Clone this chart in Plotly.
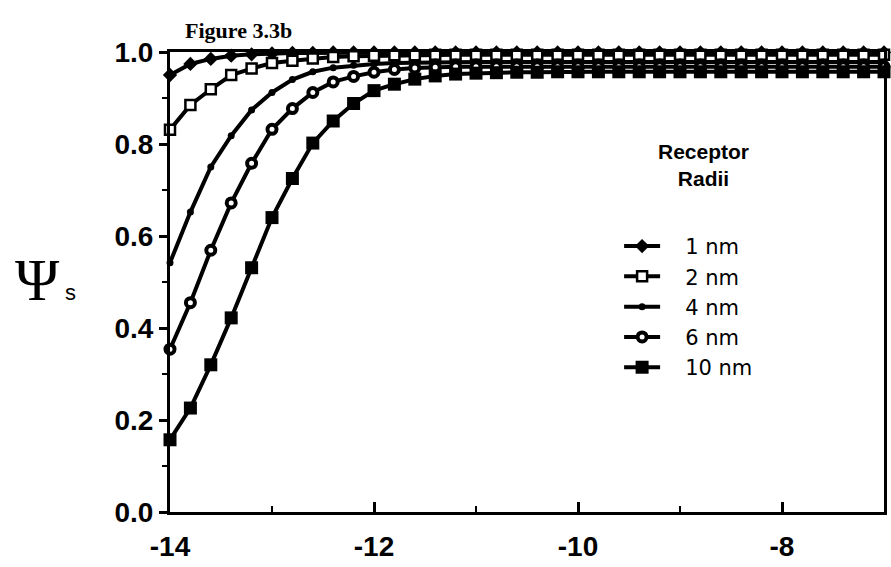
import plotly.graph_objects as go

# log concentration (x) values
x_vals = [-14.0, -13.8, -13.6, -13.4, -13.2, -13.0, -12.8, -12.6, -12.4, -12.2,
          -12.0, -11.8, -11.6, -11.4, -11.2, -11.0, -10.8, -10.6, -10.4, -10.2,
          -10.0, -9.8, -9.6, -9.4, -9.2, -9.0, -8.8, -8.6, -8.4, -8.2,
          -8.0, -7.8, -7.6, -7.4, -7.2, -7.0]

psi_1nm = [0.950, 0.974, 0.985, 0.992, 0.995, 0.997, 0.998, 0.998, 0.999, 0.999,
           0.999, 0.999, 0.999, 0.999, 0.999, 0.999, 0.999, 0.999, 0.999, 0.999,
           0.999, 0.999, 0.999, 0.999, 0.999, 0.999, 0.999, 0.999, 0.999, 0.999,
           0.999, 0.999, 0.999, 0.999, 0.999, 0.999]
psi_2nm = [0.831, 0.885, 0.919, 0.950, 0.964, 0.976, 0.981, 0.986, 0.989, 0.991,
           0.992, 0.993, 0.993, 0.994, 0.994, 0.994, 0.994, 0.994, 0.994, 0.994,
           0.994, 0.994, 0.994, 0.994, 0.994, 0.994, 0.994, 0.994, 0.994, 0.994,
           0.994, 0.994, 0.994, 0.994, 0.994, 0.994]
psi_4nm = [0.542, 0.652, 0.750, 0.818, 0.874, 0.912, 0.940, 0.957, 0.966, 0.971,
           0.974, 0.976, 0.977, 0.978, 0.978, 0.978, 0.978, 0.978, 0.978, 0.978,
           0.978, 0.978, 0.978, 0.978, 0.978, 0.978, 0.978, 0.978, 0.978, 0.978,
           0.978, 0.978, 0.978, 0.978, 0.978, 0.978]
psi_6nm = [0.354, 0.455, 0.569, 0.672, 0.758, 0.832, 0.877, 0.912, 0.935, 0.947,
           0.956, 0.962, 0.965, 0.967, 0.968, 0.968, 0.968, 0.968, 0.968, 0.968,
           0.968, 0.968, 0.968, 0.968, 0.968, 0.968, 0.968, 0.968, 0.968, 0.968,
           0.968, 0.968, 0.968, 0.968, 0.968, 0.968]
psi_10nm = [0.157, 0.226, 0.320, 0.422, 0.531, 0.640, 0.725, 0.802, 0.850, 0.888,
            0.916, 0.930, 0.941, 0.948, 0.952, 0.954, 0.955, 0.956, 0.956, 0.957,
            0.957, 0.957, 0.957, 0.957, 0.957, 0.957, 0.957, 0.957, 0.957, 0.957,
            0.957, 0.957, 0.957, 0.957, 0.957, 0.957]

series_names = ["1 nm", "2 nm", "4 nm", "6 nm", "10 nm"]
x_tick_vals = [-14, -12, -10, -8]
x_tick_text = ["-14", "-12", "-10", "-8"]
y_tick_vals = [0.0, 0.2, 0.4, 0.6, 0.8, 1.0]
y_tick_text = ["0.0", "0.2", "0.4", "0.6", "0.8", "1.0"]

series_data = [psi_1nm, psi_2nm, psi_4nm, psi_6nm, psi_10nm]
marker_styles = [
    dict(symbol="diamond", size=11, color="black", line=dict(width=0)),
    dict(symbol="square", size=10, color="white", line=dict(width=2.5, color="black")),
    dict(symbol="circle", size=7, color="black", line=dict(width=0)),
    dict(symbol="circle", size=9, color="white", line=dict(width=4, color="black")),
    dict(symbol="square", size=13, color="black", line=dict(width=0)),
]

legend_pad = "\u00a0\u00a0\u00a0"

fig = go.Figure()
for name, ys, mk in zip(series_names, series_data, marker_styles):
    fig.add_trace(go.Scatter(
        x=x_vals, y=ys, name=legend_pad + name, mode="lines+markers",
        line=dict(color="black", width=4),
        marker=mk, cliponaxis=False,
    ))

tick_font = dict(family="Liberation Sans, Arial, sans-serif", size=28, color="black", weight="bold")

fig.update_layout(
    width=891, height=567,
    margin=dict(l=170, r=4, t=52, b=55),
    paper_bgcolor="white", plot_bgcolor="white",
    showlegend=True,
    legend=dict(
        x=0.629, y=0.622, xanchor="left", yanchor="top",
        bgcolor="rgba(0,0,0,0)",
        font=dict(family="DejaVu Sans, Liberation Sans, sans-serif", size=21, color="black"),
        itemwidth=36, tracegroupgap=0,
    ),
    xaxis=dict(
        range=[-14, -7], showgrid=False, zeroline=False,
        showline=True, linewidth=3, linecolor="black", mirror=True,
        tickmode="array", tickvals=x_tick_vals, ticktext=x_tick_text,
        ticks="inside", ticklen=10, tickwidth=2.5, tickcolor="black",
        minor=dict(dtick=1, ticks="inside", ticklen=6, tickwidth=2, tickcolor="black"),
        tickfont=tick_font, ticklabelstandoff=7,
    ),
    yaxis=dict(
        range=[0, 1], showgrid=False, zeroline=False,
        showline=True, linewidth=3, linecolor="black", mirror=True,
        tickmode="array", tickvals=y_tick_vals, ticktext=y_tick_text,
        ticks="outside", ticklen=8, tickwidth=2.5, tickcolor="black",
        minor=dict(dtick=0.1, ticks="outside", ticklen=5, tickwidth=2, tickcolor="black"),
        tickfont=tick_font,
    ),
    annotations=[
        dict(text="<b>Figure 3.3b</b>", xref="paper", yref="paper", x=0.096, y=1.0457,
             xanchor="center", yanchor="middle",
             showarrow=False, font=dict(family="Liberation Serif, Times New Roman, serif",
                                        size=22, color="black")),
        dict(text="<b>Receptor</b><br><b>Radii</b>", xref="paper", yref="paper",
             x=0.747, y=0.754, xanchor="center", yanchor="middle", align="center",
             showarrow=False, font=dict(family="Liberation Sans, Arial, sans-serif",
                                        size=21, color="black")),
        dict(text="Ψ", xref="paper", yref="paper", x=-0.1855, y=0.505,
             xanchor="center", yanchor="middle",
             showarrow=False, font=dict(family="Liberation Serif, Times New Roman, serif",
                                        size=60, color="black")),
        dict(text="s", xref="paper", yref="paper", x=-0.1395, y=0.478,
             xanchor="center", yanchor="middle",
             showarrow=False, font=dict(family="Liberation Sans, Arial, sans-serif",
                                        size=22, color="black")),
    ],
)

fig.write_html("out.html")
